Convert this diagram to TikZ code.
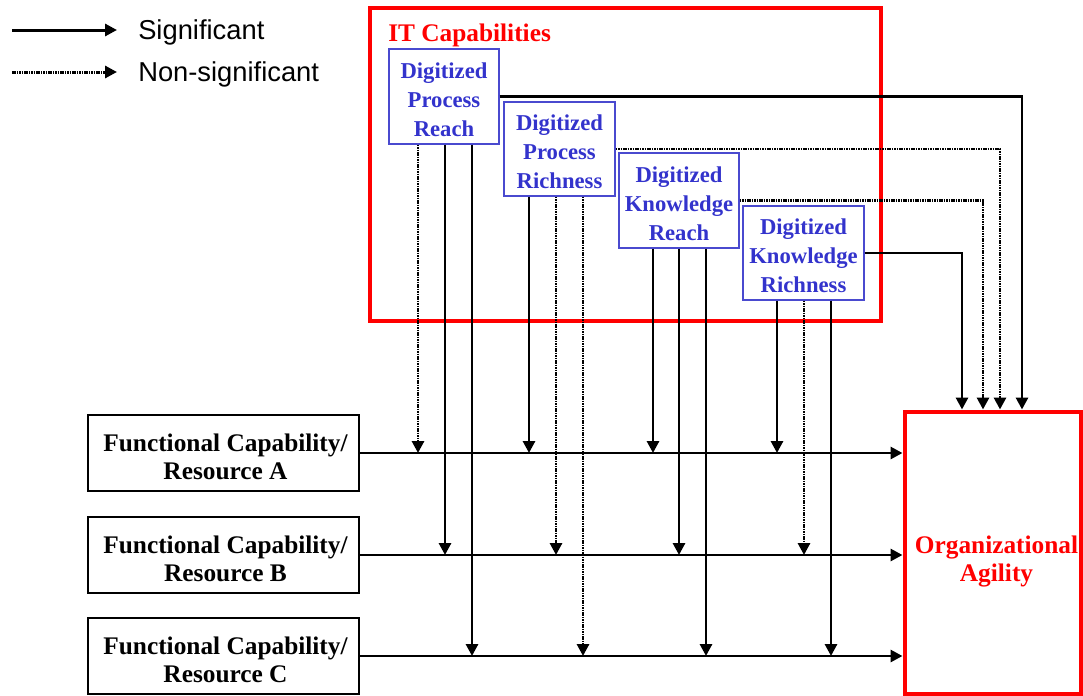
\documentclass[tikz,border=0pt]{standalone}
\usepackage{fontspec}
\setmainfont{Liberation Serif}
\newfontfamily\legendfont{Liberation Sans}
\usetikzlibrary{arrows.meta}
\definecolor{itred}{HTML}{FF0000}
\definecolor{itblue}{HTML}{3333CC}
\definecolor{itbord}{HTML}{4A4ACF}
\begin{document}
\begin{tikzpicture}[x=0.75pt,y=-0.75pt,
  sig/.style={line width=2.2pt,-{Triangle[length=9pt,width=9pt]}},
  nonsig/.style={sig,dash pattern=on 1.2pt off 0.6pt},
  bluebox/.style={draw=itbord,line width=1.1pt,inner sep=0pt},
  bluetext/.style={text=itblue,inner sep=0pt,align=center,
    font=\bfseries\fontsize{17}{21.75}\selectfont},
  funcbox/.style={draw=black,line width=1.1pt,inner sep=0pt,
    minimum width=203.25pt,minimum height=57pt},
  functext/.style={inner sep=0pt,align=center,
    font=\bfseries\fontsize{19}{21}\selectfont},
  redbox/.style={draw=itred,line width=3pt,inner sep=0pt},
  redtext/.style={text=itred,font=\bfseries\fontsize{19}{21}\selectfont,align=center,inner sep=0pt},
  legendtext/.style={font=\legendfont\fontsize{20.5}{23}\selectfont,anchor=west,inner sep=0pt}]
\useasboundingbox (0,0) rectangle (1083,696);

% legend
\coordinate (ls1) at (12,30);
\coordinate (le1) at (117,30);
\coordinate (ls2) at (12,72);
\coordinate (le2) at (117,72);
\draw[sig,line width=2.25pt] (ls1) -- (le1);
\draw[nonsig,line width=2.25pt] (ls2) -- (le2);
\node[legendtext] (lsig) at (138,32.5) {Significant};
\node[legendtext] (lnon) at (138,74.5) {Non-significant};

% IT capabilities frame
\node[redbox,minimum width=383.25pt,minimum height=234.75pt] (IT) at (625.5,164.5) {};
\node[redtext,anchor=west] (ITt) at (388,35) {IT Capabilities};

% blue boxes
\node[bluebox,minimum width=82.5pt,minimum height=71.25pt] (DPR) at (444,96.5) {};
\node[bluebox,minimum width=83.25pt,minimum height=70.5pt] (DPH) at (559.5,149) {};
\node[bluebox,minimum width=90pt,minimum height=71.25pt] (DKR) at (679,200.5) {};
\node[bluebox,minimum width=90.75pt,minimum height=70.5pt] (DKH) at (803.5,253) {};
\node[bluetext] (DPRt) at ([yshift=-2.4pt]DPR.center) {Digitized\\Process\\Reach};
\node[bluetext] (DPHt) at ([yshift=-2.4pt]DPH.center) {Digitized\\Process\\Richness};
\node[bluetext] (DKRt) at ([yshift=-2.4pt]DKR.center) {Digitized\\Knowledge\\Reach};
\node[bluetext] (DKHt) at ([yshift=-2.4pt]DKH.center) {Digitized\\Knowledge\\Richness};

% functional boxes
\node[funcbox] (A) at (223.5,453) {};
\node[funcbox] (B) at (223.5,555) {};
\node[funcbox] (C) at (223.5,656) {};
\node[functext] (At) at ([xshift=1.5pt,yshift=-3pt]A.center) {Functional Capability/\\Resource A};
\node[functext] (Bt) at ([xshift=1.5pt,yshift=-3pt]B.center) {Functional Capability/\\Resource B};
\node[functext] (Ct) at ([xshift=1.5pt,yshift=-3pt]C.center) {Functional Capability/\\Resource C};

% organizational agility
\node[redbox,minimum width=132pt,minimum height=211.5pt] (OA) at (992.5,552.5) {};
\node[redtext] (OAt) at (996.5,561.5) {Organizational\\Agility};

% horizontal arrows
\draw[sig] (A.east) -- (A.east -| OA.west);
\draw[sig] (B.east) -- (B.east -| OA.west);
\draw[sig] (C.east) -- (C.east -| OA.west);

% vertical x positions
\coordinate (p1) at (418,0);
\coordinate (p2) at (445,0);
\coordinate (p3) at (472,0);
\coordinate (q1) at (529,0);
\coordinate (q2) at (556,0);
\coordinate (q3) at (583,0);
\coordinate (r1) at (653,0);
\coordinate (r2) at (679,0);
\coordinate (r3) at (706,0);
\coordinate (s1) at (777,0);
\coordinate (s2) at (804,0);
\coordinate (s3) at (831,0);

\draw[nonsig] (DPR.south -| p1) -- (p1 |- A.east);
\draw[sig] (DPR.south -| p2) -- (p2 |- B.east);
\draw[sig] (DPR.south -| p3) -- (p3 |- C.east);

\draw[sig] (DPH.south -| q1) -- (q1 |- A.east);
\draw[nonsig] (DPH.south -| q2) -- (q2 |- B.east);
\draw[nonsig] (DPH.south -| q3) -- (q3 |- C.east);

\draw[sig] (DKR.south -| r1) -- (r1 |- A.east);
\draw[sig] (DKR.south -| r2) -- (r2 |- B.east);
\draw[sig] (DKR.south -| r3) -- (r3 |- C.east);

\draw[sig] (DKH.south -| s1) -- (s1 |- A.east);
\draw[nonsig] (DKH.south -| s2) -- (s2 |- B.east);
\draw[sig] (DKH.south -| s3) -- (s3 |- C.east);

% links to organizational agility
\coordinate (t1) at (1022,0);
\coordinate (t2) at (1000,0);
\coordinate (t3) at (983,0);
\coordinate (t4) at (962,0);
\draw[sig] (DPR.east) -| (t1 |- OA.north);
\draw[nonsig] (DPH.east) -| (t2 |- OA.north);
\draw[nonsig] (DKR.east) -| (t3 |- OA.north);
\draw[sig] (DKH.east) -| (t4 |- OA.north);
\end{tikzpicture}
\end{document}
